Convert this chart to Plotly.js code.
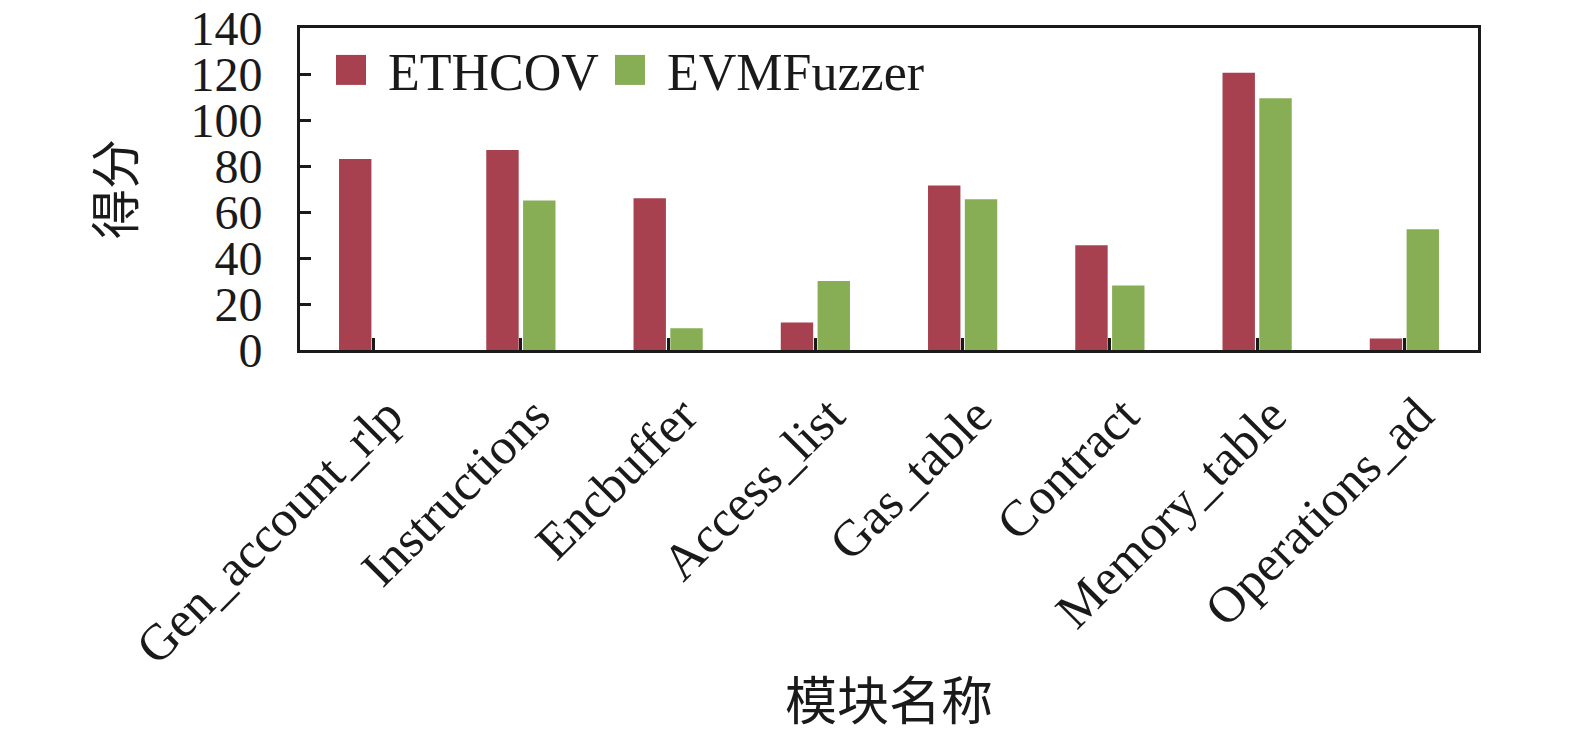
<!DOCTYPE html>
<html>
<head>
<meta charset="utf-8">
<script src="https://cdn.plot.ly/plotly-3.0.1.min.js"></script>
<style>body{margin:0;padding:0;background:#fff;}#chart{width:1575px;height:735px;}</style>
</head>
<body>
<div id="chart"></div>
<script>
const categories = ["Gen_account_rlp", "Instructions", "Encbuffer", "Access_list", "Gas_table", "Contract", "Memory_table", "Operations_ad"];
const ethcov = [83, 87, 66, 12, 71.5, 45.5, 120.5, 5];
const evmfuzzer = [0, 65, 9.5, 30, 65.5, 28, 109.5, 52.5];
const yTickVals = [0, 20, 40, 60, 80, 100, 120, 140];
const yTickText = ["0", "20", "40", "60", "80", "100", "120", "140"];

const FONT = "Liberation Serif, Times New Roman, Noto Sans CJK SC, serif";
const INK = "#1a1a1a";

const traces = [
  {type: "bar", name: "ETHCOV", x: categories, y: ethcov, marker: {color: "#A8414F"}},
  {type: "bar", name: "EVMFuzzer", x: categories, y: evmfuzzer, marker: {color: "#87AE55"}}
];

const layout = {
  width: 1575, height: 735,
  paper_bgcolor: "#fff", plot_bgcolor: "#fff",
  margin: {l: 300, r: 97, t: 28, b: 385},
  font: {family: FONT, size: 48, color: INK},
  barmode: "group", bargap: 0.5, bargroupgap: 0.12,
  showlegend: true,
  legend: {
    orientation: "h", x: 0.0119, xanchor: "left", y: 0.995, yanchor: "top",
    bgcolor: "rgba(0,0,0,0)", font: {family: FONT, size: 52, color: INK},
    itemwidth: 64, entrywidth: 200, traceorder: "normal"
  },
  xaxis: {
    type: "category", tickangle: -45,
    ticks: "inside", ticklen: 12, tickwidth: 3, tickcolor: INK,
    showline: true, linewidth: 3, linecolor: INK, mirror: true,
    showgrid: false, zeroline: false,
    ticklabelshift: 14, ticklabelstandoff: 12,
    tickfont: {family: FONT, size: 51, color: INK},
    title: {text: "模块名称", font: {family: FONT, size: 52, color: INK}, standoff: 10},
    automargin: false
  },
  yaxis: {
    range: [0, 140], tickvals: yTickVals, ticktext: yTickText,
    ticks: "inside", ticklen: 11, tickwidth: 3, tickcolor: INK,
    showline: true, linewidth: 3, linecolor: INK, mirror: true,
    showgrid: false, zeroline: false,
    ticklabelstandoff: 25,
    tickfont: {family: FONT, size: 48, color: INK},
    title: {text: "得分", font: {family: FONT, size: 50, color: INK}, standoff: 40},
    automargin: false
  }
};

Plotly.newPlot("chart", traces, layout, {staticPlot: true, displayModeBar: false}).then(function (gd) {
  // enlarge legend swatches to match the reference's large squares
  document.querySelectorAll("#chart .legend .legendpoints path").forEach(function (p) {
    const t = p.getAttribute("transform") || "";
    p.setAttribute("transform", t + " scale(2.5)");
  });
  document.querySelectorAll("#chart .legend [clip-path]").forEach(function (n) {
    n.removeAttribute("clip-path");
  });
});
</script>
</body>
</html>
